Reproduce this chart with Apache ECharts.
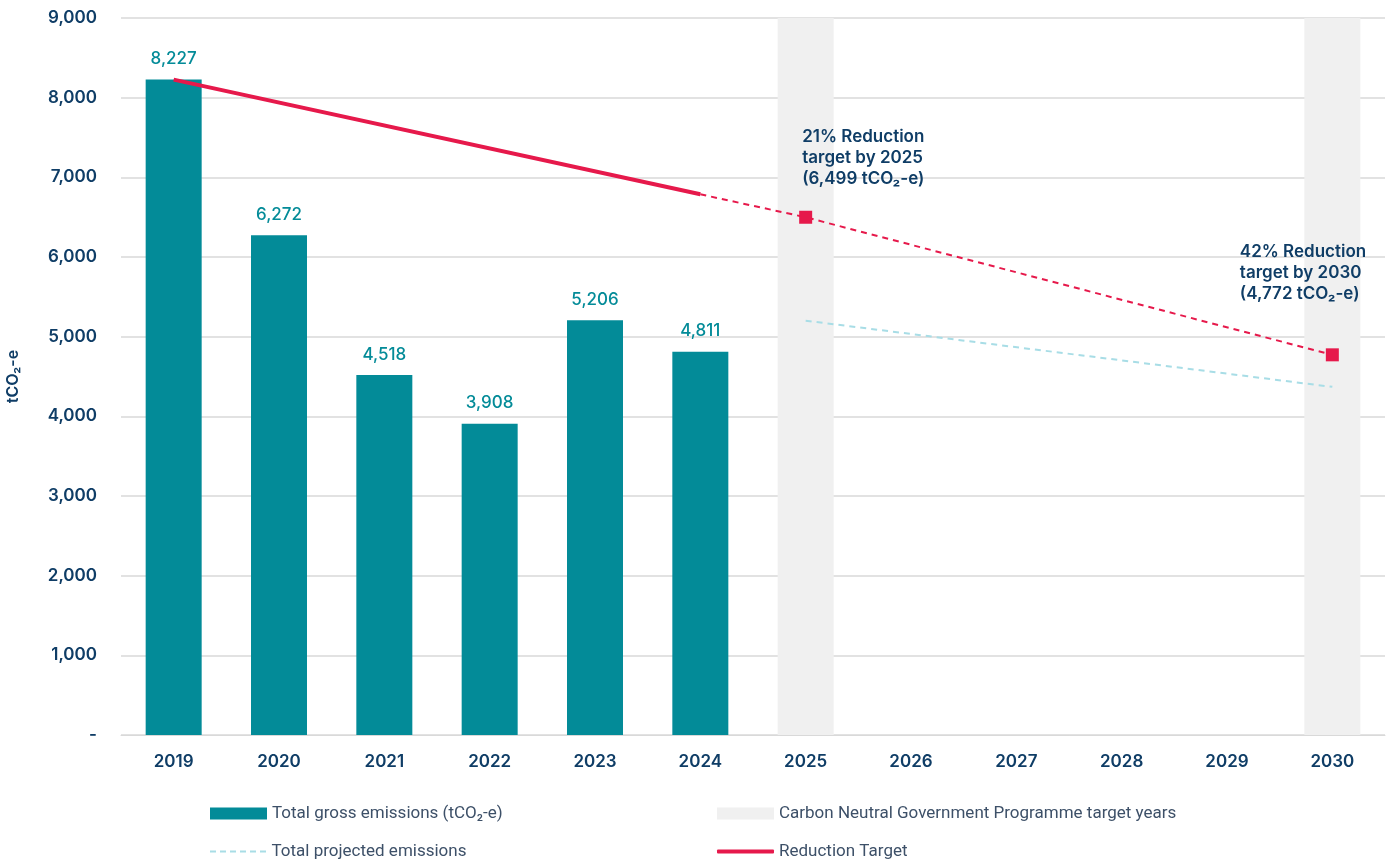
<!DOCTYPE html>
<html>
<head>
<meta charset="utf-8">
<script src="https://cdn.jsdelivr.net/npm/echarts@6/dist/echarts.min.js"></script>
<style>
html,body{margin:0;padding:0;background:#fff;}
#chart{width:1392px;height:859px;}
</style>
</head>
<body>
<div id="chart"></div>
<script>
const years = ['2019','2020','2021','2022','2023','2024','2025','2026','2027','2028','2029','2030'];
const grossEmissions = [8227, 6272, 4518, 3908, 5206, 4811, null, null, null, null, null, null];
const targetYearsBand = [null, null, null, null, null, null, 9000, null, null, null, null, 9000];
const reductionActual = [8227, null, null, null, null, 6787, null, null, null, null, null, null];
const reductionFuture = [null, null, null, null, null, 6787, 6499, null, null, null, null, 4772];
const projectedEmissions = [null, null, null, null, null, null, 5200, null, null, null, null, 4370];
const targetMarkers = [null, null, null, null, null, null, 6499, null, null, null, null, 4772];
const targetNotes = {6: '21% Reduction\ntarget by 2025\n(6,499 tCO\u2082-e)', 11: '42% Reduction\ntarget by 2030\n(4,772 tCO\u2082-e)'};

const navy = '#0f3d66';
const teal = '#038b98';
const red = '#e6194b';
const font = 'Inter, "Noto Sans", sans-serif';

const chart = echarts.init(document.getElementById('chart'));
const fmt = v => v.toLocaleString('en-US');

const legendText = {fontFamily: 'Roboto, sans-serif', fontSize: 17, color: '#3d5068'};
const dashIcon = 'path://M0,0h6v2h-6zM10,0h6v2h-6zM20,0h6v2h-6zM30,0h6v2h-6zM40,0h6v2h-6zM50,0h6v2h-6z';

chart.setOption({
  animation: false,
  grid: {left: 121, right: 7, top: 18, bottom: 124, outerBoundsMode: 'none', containLabel: false},
  legend: [
    {left: 205, top: 800, itemWidth: 57, itemHeight: 12, itemGap: 6, textStyle: legendText,
      data: [{name: 'Total gross emissions (tCO\u2082-e)', icon: 'rect'}]},
    {left: 712, top: 800, itemWidth: 57, itemHeight: 12, itemGap: 6, textStyle: legendText,
      data: [{name: 'Carbon Neutral Government Programme target years', icon: 'rect'}]},
    {left: 205, top: 838, itemWidth: 57, itemHeight: 2, itemGap: 6, textStyle: legendText,
      data: [{name: 'Total projected emissions', icon: dashIcon}]},
    {left: 712, top: 838, itemWidth: 57, itemHeight: 4, itemGap: 6, textStyle: legendText,
      data: [{name: 'Reduction Target', icon: 'roundRect'}]}
  ],
  xAxis: {
    type: 'category',
    data: years,
    axisTick: {show: false},
    axisLine: {lineStyle: {color: '#d9d9d9'}},
    axisLabel: {color: navy, fontFamily: font, fontSize: 17, fontWeight: 600, margin: 18}
  },
  yAxis: {
    type: 'value',
    min: 0, max: 9000, interval: 1000,
    name: 'tCO\u2082-e',
    nameLocation: 'middle',
    nameGap: 100,
    nameTextStyle: {color: navy, fontFamily: font, fontSize: 16, fontWeight: 600},
    axisLabel: {color: navy, fontFamily: font, fontSize: 17, fontWeight: 600, margin: 24,
      formatter: v => v === 0 ? '-' : fmt(v)},
    splitLine: {lineStyle: {color: '#d9d9d9', width: 1.5}}
  },
  series: [
    {
      name: 'Carbon Neutral Government Programme target years',
      type: 'bar',
      data: targetYearsBand,
      barWidth: 56,
      barGap: '-100%',
      itemStyle: {color: '#f0f0f0'},
      z: 1
    },
    {
      name: 'Total gross emissions (tCO\u2082-e)',
      type: 'bar',
      data: grossEmissions,
      barWidth: 56,
      barGap: '-100%',
      itemStyle: {color: teal},
      label: {show: true, position: 'top', distance: 12, color: teal, fontFamily: font,
        fontSize: 17, fontWeight: 500, formatter: p => fmt(p.value)},
      z: 2
    },
    {
      name: 'Total projected emissions',
      type: 'line',
      data: projectedEmissions,
      connectNulls: true,
      symbol: 'none',
      lineStyle: {color: '#a8dde6', width: 2, type: [6, 5]},
      itemStyle: {color: '#a8dde6'},
      z: 3
    },
    {
      name: 'Reduction Target',
      type: 'line',
      data: reductionActual,
      connectNulls: true,
      symbol: 'none',
      lineStyle: {color: red, width: 4},
      itemStyle: {color: red},
      z: 4
    },
    {
      name: 'Reduction Target (projected)',
      type: 'line',
      data: reductionFuture,
      connectNulls: true,
      symbol: 'none',
      lineStyle: {color: red, width: 2, type: [6, 5]},
      itemStyle: {color: red},
      z: 4
    },
    {
      name: 'Target markers',
      type: 'scatter',
      symbol: 'rect',
      symbolSize: 13,
      itemStyle: {color: red, opacity: 1},
      z: 5,
      data: targetMarkers.map((v, i) => {
        if (v === null) return null;
        return {value: v, label: {position: i === 6 ? [3, -84] : [-86, -107]}};
      }),
      label: {
        show: true,
        formatter: p => targetNotes[p.dataIndex] || '',
        align: 'left',
        verticalAlign: 'top',
        color: navy,
        fontFamily: font,
        fontSize: 17,
        fontWeight: 600,
        lineHeight: 21
      }
    }
  ]
});
</script>
</body>
</html>
